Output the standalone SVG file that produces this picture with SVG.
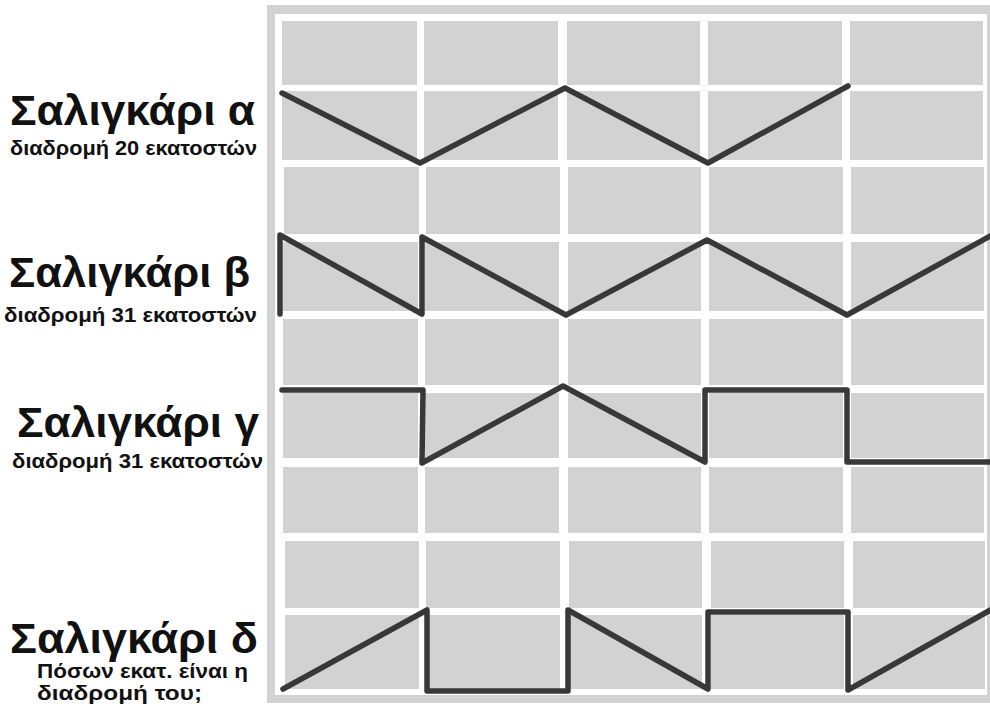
<svg xmlns="http://www.w3.org/2000/svg" width="990" height="726" viewBox="0 0 990 726">
<style>
.c{fill:#d2d2d2}
.t{font-family:"Liberation Sans",Arial,sans-serif;font-weight:bold;font-size:42px;fill:#111}
.s{font-family:"Liberation Sans",Arial,sans-serif;font-weight:bold;font-size:19.5px;fill:#111}
.p{fill:none;stroke:#383838;stroke-width:5.5;stroke-linejoin:round;stroke-linecap:round}
</style>
<rect width="990" height="726" fill="#ffffff"/>
<g id="grid">
<rect x="267" y="5" width="730" height="698" fill="#d2d2d2"/>
<rect x="275" y="14" width="712" height="681" fill="#ffffff"/>
<g id="row1"><rect class="c" x="282" y="21" width="135" height="64"/><rect class="c" x="424" y="21" width="134" height="64"/><rect class="c" x="567" y="21" width="133" height="64"/><rect class="c" x="708" y="21" width="134" height="64"/><rect class="c" x="850" y="21" width="133" height="64"/></g>
<g id="row2"><rect class="c" x="282" y="91" width="135" height="69"/><rect class="c" x="424" y="91" width="134" height="69"/><rect class="c" x="567" y="91" width="133" height="69"/><rect class="c" x="708" y="91" width="134" height="69"/><rect class="c" x="850" y="91" width="133" height="69"/></g>
<g id="row3"><rect class="c" x="284" y="167" width="135" height="67"/><rect class="c" x="426" y="167" width="134" height="67"/><rect class="c" x="568" y="167" width="133" height="67"/><rect class="c" x="709" y="167" width="134" height="67"/><rect class="c" x="851" y="167" width="133" height="67"/></g>
<g id="row4"><rect class="c" x="283" y="242" width="135" height="69"/><rect class="c" x="425" y="242" width="134" height="69"/><rect class="c" x="568" y="242" width="133" height="69"/><rect class="c" x="709" y="242" width="134" height="69"/><rect class="c" x="851" y="242" width="133" height="69"/></g>
<g id="row5"><rect class="c" x="283" y="319" width="135" height="66"/><rect class="c" x="425" y="319" width="134" height="66"/><rect class="c" x="568" y="319" width="133" height="66"/><rect class="c" x="709" y="319" width="134" height="66"/><rect class="c" x="851" y="319" width="133" height="66"/></g>
<g id="row6"><rect class="c" x="283" y="393" width="135" height="65"/><rect class="c" x="425" y="393" width="134" height="65"/><rect class="c" x="568" y="393" width="133" height="65"/><rect class="c" x="709" y="393" width="134" height="65"/><rect class="c" x="851" y="393" width="133" height="65"/></g>
<g id="row7"><rect class="c" x="283" y="467" width="135" height="66"/><rect class="c" x="425" y="467" width="134" height="66"/><rect class="c" x="568" y="467" width="133" height="66"/><rect class="c" x="709" y="467" width="134" height="66"/><rect class="c" x="851" y="467" width="133" height="66"/></g>
<g id="row8"><rect class="c" x="285" y="541" width="134" height="67"/><rect class="c" x="426" y="541" width="134" height="67"/><rect class="c" x="569" y="541" width="133" height="67"/><rect class="c" x="711" y="541" width="133" height="67"/><rect class="c" x="853" y="541" width="132" height="67"/></g>
<g id="row9"><rect class="c" x="285" y="615" width="134" height="74"/><rect class="c" x="426" y="615" width="134" height="74"/><rect class="c" x="569" y="615" width="133" height="74"/><rect class="c" x="711" y="615" width="133" height="74"/><rect class="c" x="853" y="615" width="132" height="74"/></g>
</g>
<g id="connectors">
<polyline id="path-a" class="p" points="282,93 420,163 565,88 708,163 848,86"/>
<polyline id="path-b" class="p" points="280,314 280,235 422,314 422,237 566,315 707,240 847,315 994,234"/>
<polyline id="path-c" class="p" points="282,390 423,390 422,463 563,386 705,462 705,390 847,390 847,462 994,462"/>
<polyline id="path-d" class="p" points="283,689 427,610 427,691 568,691 568,610 708,689 708,612 848,612 848,690 994,608"/>
</g>
<g id="label-a">
<text class="t" x="10" y="125" textLength="245" lengthAdjust="spacingAndGlyphs">Σαλιγκάρι α</text>
<text class="s" x="10" y="155" textLength="247" lengthAdjust="spacingAndGlyphs">διαδρομή 20 εκατοστών</text>
</g>
<g id="label-b">
<text class="t" x="9" y="287" textLength="241" lengthAdjust="spacingAndGlyphs">Σαλιγκάρι β</text>
<text class="s" x="4" y="322" textLength="253" lengthAdjust="spacingAndGlyphs">διαδρομή 31 εκατοστών</text>
</g>
<g id="label-c">
<text class="t" x="17" y="437" textLength="242" lengthAdjust="spacingAndGlyphs">Σαλιγκάρι γ</text>
<text class="s" x="12" y="468" textLength="251" lengthAdjust="spacingAndGlyphs">διαδρομή 31 εκατοστών</text>
</g>
<g id="label-d">
<text class="t" x="10" y="653" textLength="248" lengthAdjust="spacingAndGlyphs">Σαλιγκάρι δ</text>
<text class="s" x="37" y="678" textLength="211" lengthAdjust="spacingAndGlyphs">Πόσων εκατ. είναι η</text>
<text class="s" x="37" y="700" textLength="165" lengthAdjust="spacingAndGlyphs">διαδρομή του;</text>
</g>
</svg>
